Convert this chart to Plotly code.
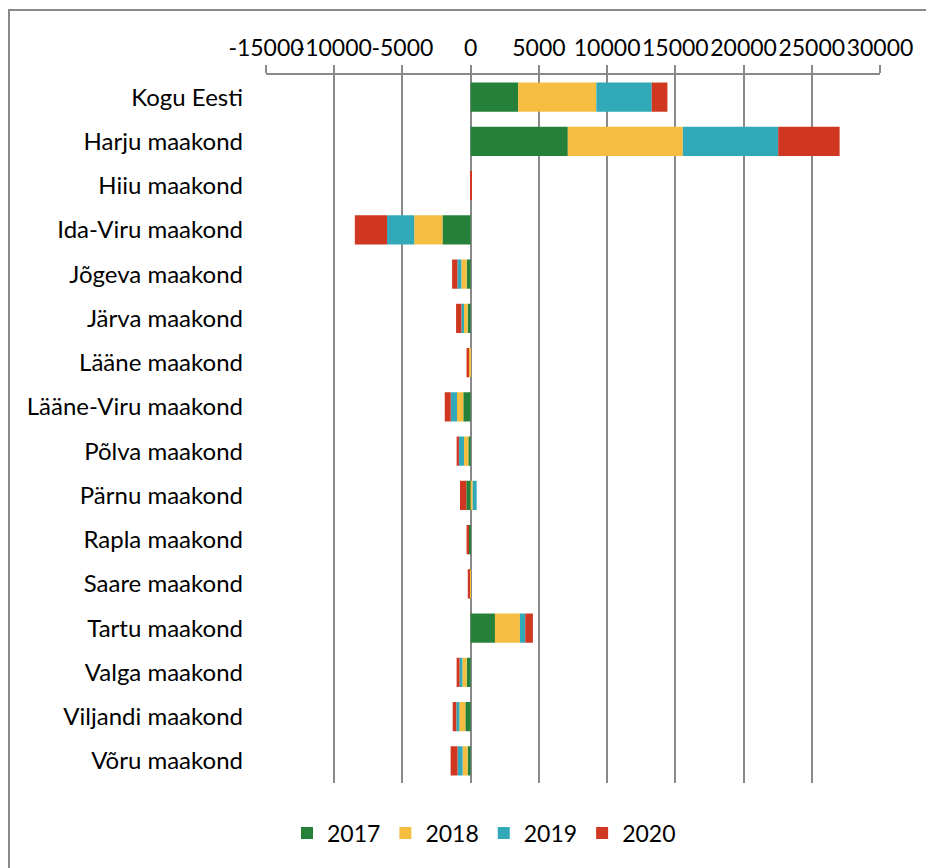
import plotly.graph_objects as go

categories = ["Kogu Eesti", "Harju maakond", "Hiiu maakond", "Ida-Viru maakond",
              "Jõgeva maakond", "Järva maakond", "Lääne maakond", "Lääne-Viru maakond",
              "Põlva maakond", "Pärnu maakond", "Rapla maakond", "Saare maakond",
              "Tartu maakond", "Valga maakond", "Viljandi maakond", "Võru maakond"]

years = ["2017", "2018", "2019", "2020"]

v2017 = [3480, 7120, 10, -2070, -290, -220, -20, -540, -170, -320, -140, -10, 1780, -290, -390, -220]
v2018 = [5730, 8430, 10, -2070, -390, -340, -130, -460, -320, 150, -10, -100, 1830, -320, -440, -370]
v2019 = [4060, 6990, 0, -1990, -290, -120, -10, -460, -370, 290, -10, -10, 390, -200, -220, -370]
v2020 = [1150, 4500, 50, -2360, -390, -390, -140, -440, -170, -460, -140, -90, 560, -220, -270, -510]

series = [v2017, v2018, v2019, v2020]
colors = ["#258039", "#F5BE41", "#31A9B8", "#CF3721"]

tick_vals = [-15000, -10000, -5000, 0, 5000, 10000, 15000, 20000, 25000, 30000]
tick_text = ["-15000", "-10000", "-5000", "0", "5000", "10000", "15000", "20000", "25000", "30000"]

FONT = "Lato, Calibri, Carlito, sans-serif"
GRID = "#898989"

fig = go.Figure()
for name, vals, col in zip(years, series, colors):
    fig.add_trace(go.Bar(
        y=categories, x=vals, name=name, orientation="h",
        marker=dict(color=col, line=dict(width=0)),
    ))

# plot area geometry (pixels, relative to figure which sits at 8px page offset)
W, H = 934, 868
L, T = 258, 67
pw, ph = 614, 708
R = W - L - pw
B = H - T - ph
zero_pos = (0 - (-15000)) / 45000.0

n = len(categories)
fig.update_layout(
    width=W, height=H,
    margin=dict(l=L, r=R, t=T, b=B, pad=0),
    paper_bgcolor="white", plot_bgcolor="white",
    barmode="relative", bargap=0.34,
    font=dict(family=FONT, size=24, color="#000000"),
    showlegend=True,
    legend=dict(orientation="h", x=(484 - 8 - L) / pw, xanchor="center",
                y=-(825 - (T + ph)) / ph,
                yanchor="middle", font=dict(size=23), traceorder="normal",
                bgcolor="rgba(0,0,0,0)"),
    xaxis=dict(side="top", range=[-15000, 30000], tickmode="array",
               tickvals=tick_vals, ticktext=tick_text, tickangle=0,
               ticks="outside", ticklen=8, tickwidth=2, tickcolor=GRID,
               showgrid=True, gridcolor=GRID, gridwidth=2,
               zeroline=True, zerolinecolor=GRID, zerolinewidth=2,
               showline=True, linecolor=GRID, linewidth=2,
               tickfont=dict(size=23, color="#000000"), fixedrange=True),
    yaxis=dict(type="category", categoryorder="array", categoryarray=categories,
               range=[n - 0.5, -0.5], showgrid=False, zeroline=False, showline=False,
               ticks="", ticklabelstandoff=22,
               tickfont=dict(size=24, color="#000000"), fixedrange=True),
    yaxis2=dict(overlaying="y", anchor="free", position=zero_pos, side="left",
                range=[n - 0.5, -0.5], tickmode="array",
                tickvals=[i - 0.5 for i in range(n + 1)],
                ticks="outside", ticklen=7, tickwidth=2, tickcolor=GRID,
                showticklabels=False, showgrid=False, zeroline=False, showline=False,
                fixedrange=True),
)

# outer chart frame
fig.add_shape(type="rect", xref="paper", yref="paper",
              x0=(1 - L) / pw, x1=(W + 20 - L) / pw,
              y0=-(H + 20 - (T + ph)) / ph, y1=(T + ph - 2) / ph,
              line=dict(color="#8a8a8a", width=2), fillcolor="rgba(0,0,0,0)", layer="below")

fig.write_html("out.html")
